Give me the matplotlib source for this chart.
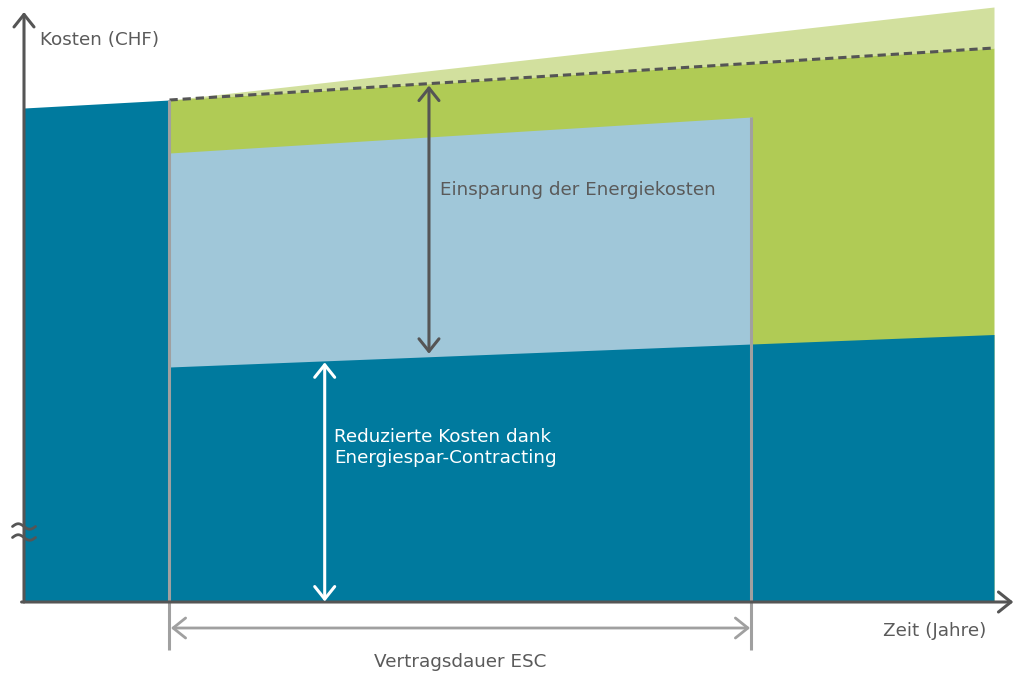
import matplotlib
matplotlib.use("Agg")
import matplotlib.pyplot as plt
import numpy as np

# ---- data (conceptual units: years / cost index) ----
pre_years = [0, 3]
pre_cost = [98.8, 100.4]

period_years = [3, 20]
baseline_cost = [100.4, 110.8]      # dashed line: energy cost without ESC
upper_cost = [100.4, 119.0]         # light green top

reduced_years = [3, 15, 20]
reduced_cost = [47.0, 51.6, 53.5]   # dark blue top (reduced costs)

contract_years = [3, 15]
contract_top = [89.8, 97.0]         # light blue top during contract

contract_start, contract_end = 3, 15
saving_arrow_year = 8.35
reduced_arrow_year = 6.2
break_cost = 14

x_label = "Zeit (Jahre)"
y_label = "Kosten (CHF)"
contract_label = "Vertragsdauer ESC"
saving_label = "Einsparung der Energiekosten"
reduced_label = "Reduzierte Kosten dank\nEnergiespar-Contracting"

# ---- colours ----
DARK_BLUE = "#007A9E"
LIGHT_BLUE = "#A0C7D9"
GREEN = "#B0CB55"
LIGHT_GREEN = "#D2E09E"
LINE_GREY = "#A0A0A0"
DARK_GREY = "#555555"
TEXT_GREY = "#5a5a5a"

plt.rcParams['font.family'] = ['DejaVu Sans']

fig = plt.figure(figsize=(10.24, 6.75), dpi=100)
ax = fig.add_axes([0, 0, 1, 1])
XU = 48.5   # px per year
YU = 5.0    # px per cost unit
ax.set_xlim(-24 / XU, 1000 / XU)
ax.set_ylim(-73 / YU, 602 / YU)
ax.axis("off")

def interp(x, xs, ys):
    return float(np.interp(x, xs, ys))

# pre-contract block
ax.fill_between(pre_years, 0, pre_cost, color=DARK_BLUE, lw=0, zorder=1)

# light green (upper) region
ax.fill_between(period_years, baseline_cost, upper_cost, color=LIGHT_GREEN, lw=0, zorder=1)
# green region up to baseline
ax.fill_between(period_years, 0, baseline_cost, color=GREEN, lw=0, zorder=1)
# light blue region during contract
ax.fill_between(contract_years, 0, contract_top, color=LIGHT_BLUE, lw=0, zorder=2)
# dark blue reduced costs
ax.fill_between(reduced_years, 0, reduced_cost, color=DARK_BLUE, lw=0, zorder=3)

# dashed baseline
ax.plot(period_years, baseline_cost, color=DARK_GREY, lw=2.2, dashes=(2.7, 1.6), zorder=5)

# vertical contract lines
ax.plot([contract_start, contract_start], [-9.6, interp(contract_start, period_years, baseline_cost)],
        color=LINE_GREY, lw=2.2, zorder=6, solid_capstyle="butt")
ax.plot([contract_end, contract_end], [-9.6, interp(contract_end, contract_years, contract_top)],
        color=LINE_GREY, lw=2.2, zorder=6, solid_capstyle="butt")

# axes arrows
arrow_kw = dict(arrowstyle="->,head_length=0.45,head_width=0.36", lw=2.2,
                color=DARK_GREY, shrinkA=0, shrinkB=0, mutation_scale=20)
ax.annotate("", xy=(0, 118), xytext=(0, 0), arrowprops=arrow_kw, zorder=7)
ax.annotate("", xy=(20.4, 0), xytext=(-0.05, 0), arrowprops=arrow_kw, zorder=7)

# contract duration double arrow
ax.annotate("", xy=(contract_end, -5.2), xytext=(contract_start, -5.2),
            arrowprops=dict(arrowstyle="<->,head_length=0.45,head_width=0.36", lw=2.0,
                            color=LINE_GREY, shrinkA=1, shrinkB=1, mutation_scale=20), zorder=7)

# saving arrow
top_s = interp(saving_arrow_year, period_years, baseline_cost)
bot_s = interp(saving_arrow_year, reduced_years, reduced_cost)
ax.annotate("", xy=(saving_arrow_year, top_s - 0.4), xytext=(saving_arrow_year, bot_s + 0.6),
            arrowprops=dict(arrowstyle="<->,head_length=0.45,head_width=0.36", lw=2.2,
                            color=DARK_GREY, shrinkA=0, shrinkB=0, mutation_scale=20), zorder=8)

# reduced cost arrow (white)
top_r = interp(reduced_arrow_year, reduced_years, reduced_cost)
ax.annotate("", xy=(reduced_arrow_year, top_r - 0.3), xytext=(reduced_arrow_year, 0.1),
            arrowprops=dict(arrowstyle="<->,head_length=0.45,head_width=0.36", lw=2.2,
                            color="white", shrinkA=0, shrinkB=0, mutation_scale=20), zorder=8)

# axis break mark: two small waves across the y axis
t = np.linspace(-1, 1, 40)
for dy in (1.1, -1.1):
    ax.plot(t * 11.5 / XU, break_cost + dy - 0.55 * np.sin(np.pi * t), color=DARK_GREY,
            lw=2.0, solid_capstyle="round", zorder=9)

# texts
fs = 13.2
ax.text(0.33, 112.4, y_label, fontsize=fs, color=TEXT_GREY, ha="left", va="center")
ax.text(19.85, -5.8, x_label, fontsize=fs, color=TEXT_GREY, ha="right", va="center")
ax.text((contract_start + contract_end) / 2, -12.0, contract_label, fontsize=fs,
        color=TEXT_GREY, ha="center", va="center")
ax.text(saving_arrow_year + 0.22, 82.4, saving_label, fontsize=fs, color=TEXT_GREY,
        ha="left", va="center", zorder=9)
ax.text(reduced_arrow_year + 0.2, 30.9, reduced_label, fontsize=fs, color="white",
        ha="left", va="center", linespacing=1.22, zorder=9)

fig.savefig("out.png", dpi=100)
